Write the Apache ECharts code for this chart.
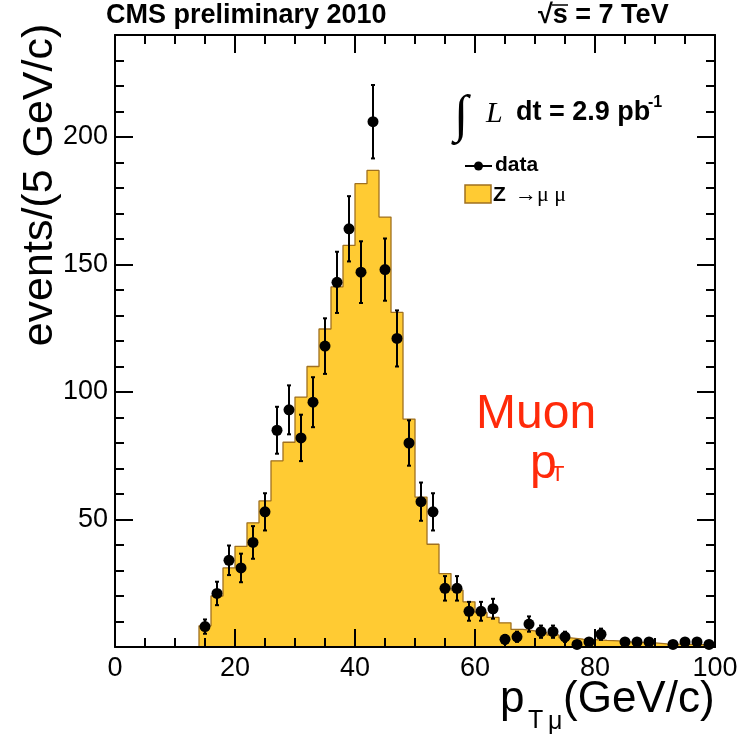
<!DOCTYPE html>
<html>
<head>
<meta charset="utf-8">
<script src="https://cdn.jsdelivr.net/npm/echarts@6/dist/echarts.min.js"></script>
<style>
html,body{margin:0;padding:0;background:#fff;}
#chart{width:750px;height:739px;}
</style>
</head>
<body>
<div id="chart"></div>
<script>
// ---- Data ----
// MC histogram (Z -> mu mu), 2 GeV/c bins: lower bin edges and heights
var mcBinLow = [14,16,18,20,22,24,26,28,30,32,34,36,38,40,42,44,46,48,50,52,54,56,58,60,62,64,66,68,70,72,74,76,78,80,82,84,86,88,90,92,94,96,98];
var mcValues = [8.3,20,31,39.5,48.7,57.3,73,80.3,98,110,124.7,141.2,157.5,181.7,186.9,168.6,131.2,89.4,58.8,40.3,28.8,22.3,17.7,13.5,11.6,9.5,6.9,6.3,5.6,4.7,3.6,3.1,2.9,2.6,2.4,2.0,1.8,1.6,1.2,1.1,1.0,0.9,0.8];
var mcBinHigh = 100;
// data points (bin centres), counts and error bars
var dataX = [15,17,19,21,23,25,27,29,31,33,35,37,39,41,43,45,47,49,51,53,55,57,59,61,63,65,67,69,71,73,75,77,79,81,85,87,89,93,95,97,99];
var dataY = [8,21,34,31,41,53,85,93,82,96,118,143,164,147,206,148,121,80,57,53,23,23,14,14,15,3,4,9,6,6,4,1,2,5,2,2,2,1,2,2,1];
var dataErr = [2.8,4.6,5.8,5.6,6.4,7.3,9.2,9.6,9.1,9.8,10.9,12.0,12.8,12.1,14.4,12.2,11.0,8.9,7.5,7.3,4.8,4.8,3.7,3.7,3.9,1.7,2.0,3.0,2.4,2.4,2.0,1.0,1.4,2.2,1.4,1.4,1.4,1.0,1.4,1.4,1.0];
// axis ticks
var xMin = 0, xMax = 100, xMajor = 20;
var yMin = 0, yMax = 240, yMajor = 50, yMinor = 10;

// ---- Build ----
var FONT = '"Liberation Sans", Arial, Helvetica, sans-serif';
var SERIF = '"Liberation Serif", "DejaVu Serif", serif';
var YEL = '#ffcb33', BROWN = '#a0701f', RED = '#ff2a0a';

var stepData = [[mcBinLow[0], 0]];
for (var i = 0; i < mcBinLow.length; i++) stepData.push([mcBinLow[i], mcValues[i]]);
stepData.push([mcBinHigh, mcValues[mcValues.length - 1]]);
stepData.push([mcBinHigh, 0]);

var pts = dataX.map(function (x, i) { return [x, dataY[i], dataErr[i]]; });

function xAx(pos, labels) {
  return {
    type: 'value', position: pos, min: xMin, max: xMax, interval: xMajor, z: 5,
    axisLine: { show: true, onZero: false, lineStyle: { color: '#000', width: 2 } },
    axisTick: { show: true, inside: true, length: 18, lineStyle: { color: '#000', width: 2 } },
    minorTick: { show: true, splitNumber: 4, length: 9, lineStyle: { color: '#000', width: 2 } },
    axisLabel: { show: labels, color: '#000', fontSize: 27, fontFamily: FONT, margin: 8 },
    splitLine: { show: false }, minorSplitLine: { show: false }
  };
}
function yAx(pos, interval, len, line, labels) {
  return {
    type: 'value', position: pos, min: yMin, max: yMax, interval: interval, z: 5,
    axisLine: { show: line, onZero: false, lineStyle: { color: '#000', width: 2 } },
    axisTick: { show: true, inside: true, length: len, lineStyle: { color: '#000', width: 2 } },
    axisLabel: { show: labels, color: '#000', fontSize: 27, fontFamily: FONT, margin: 7, showMaxLabel: false,
      formatter: function (v) { return (v === 0 || v % 50 !== 0) ? '' : String(v); } },
    splitLine: { show: false }
  };
}

function txt(x, y, text, font, fill, align, extra) {
  var o = { type: 'text', x: x, y: y, z: 100,
    style: { text: text, font: font, fill: fill || '#000', align: align || 'left', verticalAlign: 'middle',
             textAlign: align || 'left', textVerticalAlign: 'middle' } };
  if (extra) for (var k in extra) o[k] = extra[k];
  return o;
}

var chart = echarts.init(document.getElementById('chart'), null, { renderer: 'canvas' });
chart.setOption({
  backgroundColor: '#fff',
  animation: false,
  grid: { left: 115, right: 35, top: 35, bottom: 92, containLabel: false },
  xAxis: [xAx('bottom', true), xAx('top', false)],
  yAxis: [
    yAx('left', yMajor, 18, true, true),
    yAx('left', yMinor, 9, false, false),
    yAx('right', yMajor, 18, true, false),
    yAx('right', yMinor, 9, false, false)
  ],
  series: [
    {
      name: 'Z \u2192\u03bc \u03bc', type: 'line', step: 'end', xAxisIndex: 0, yAxisIndex: 0,
      data: stepData, symbol: 'none', z: 2,
      lineStyle: { color: BROWN, width: 1.3 },
      areaStyle: { color: YEL, opacity: 1 }
    },
    {
      name: 'data errors', type: 'custom', xAxisIndex: 0, yAxisIndex: 0, z: 9,
      data: pts,
      renderItem: function (params, api) {
        var x = api.value(0), y = api.value(1), e = api.value(2);
        var top = api.coord([x, y + e]);
        var bot = api.coord([x, y - e]);
        var st = { stroke: '#000', lineWidth: 2 };
        return { type: 'group', children: [
          { type: 'line', shape: { x1: top[0], y1: top[1], x2: bot[0], y2: bot[1] }, style: st },
          { type: 'line', shape: { x1: top[0] - 2, y1: top[1], x2: top[0] + 2, y2: top[1] }, style: st },
          { type: 'line', shape: { x1: bot[0] - 2, y1: bot[1], x2: bot[0] + 2, y2: bot[1] }, style: st }
        ]};
      }
    },
    {
      name: 'data', type: 'scatter', xAxisIndex: 0, yAxisIndex: 0, z: 10,
      data: pts.map(function (p) { return [p[0], p[1]]; }),
      symbol: 'circle', symbolSize: 11, itemStyle: { color: '#000', opacity: 1 }
    }
  ],
  graphic: [
    txt(106, 16, 'CMS preliminary 2010', 'bold 27px ' + FONT),
    txt(538, 16, '\u221As = 7 TeV', 'bold 27px ' + FONT),
    { type: 'line', z: 100, shape: { x1: 552, y1: 5, x2: 568, y2: 5 }, style: { stroke: '#000', lineWidth: 1.5 } },
    // luminosity
    txt(461, 117, '\u222B', '52px ' + SERIF, '#000', 'center'),
    txt(486, 114, 'L', 'italic 30px ' + SERIF),
    txt(516, 113, 'dt = 2.9 pb', 'bold 27px ' + FONT),
    txt(648, 103, '-1', 'bold 16px ' + FONT),
    // legend
    { type: 'line', z: 100, shape: { x1: 465, y1: 166, x2: 492, y2: 166 }, style: { stroke: '#000', lineWidth: 2 } },
    { type: 'circle', z: 100, shape: { cx: 478.5, cy: 166, r: 4.5 }, style: { fill: '#000' } },
    txt(495, 165.5, 'data', 'bold 21px ' + FONT),
    { type: 'rect', z: 100, shape: { x: 465, y: 185, width: 26, height: 18 }, style: { fill: YEL, stroke: BROWN, lineWidth: 1.5 } },
    txt(493, 195.5, 'Z', 'bold 21px ' + FONT),
    txt(515, 195, '\u2192\u03bc \u03bc', '22px ' + SERIF),
    // Muon pT annotation
    txt(476, 415, 'Muon', '48px ' + FONT, RED),
    txt(530, 465, 'p', '48px ' + FONT, RED),
    txt(551, 475, 'T', '22px ' + FONT, RED),
    // x-axis title
    txt(500, 700, 'p', '44px ' + FONT),
    txt(528, 721, 'T', '25px ' + FONT),
    txt(548, 722, '\u03bc', '25px ' + FONT),
    txt(563, 700, '(GeV/c)', '44px ' + FONT),
    // y-axis title
    txt(40, 185, 'events/(5 GeV/c)', '43px ' + FONT, '#000', 'center', { rotation: Math.PI / 2 })
  ]
});
</script>
</body>
</html>
